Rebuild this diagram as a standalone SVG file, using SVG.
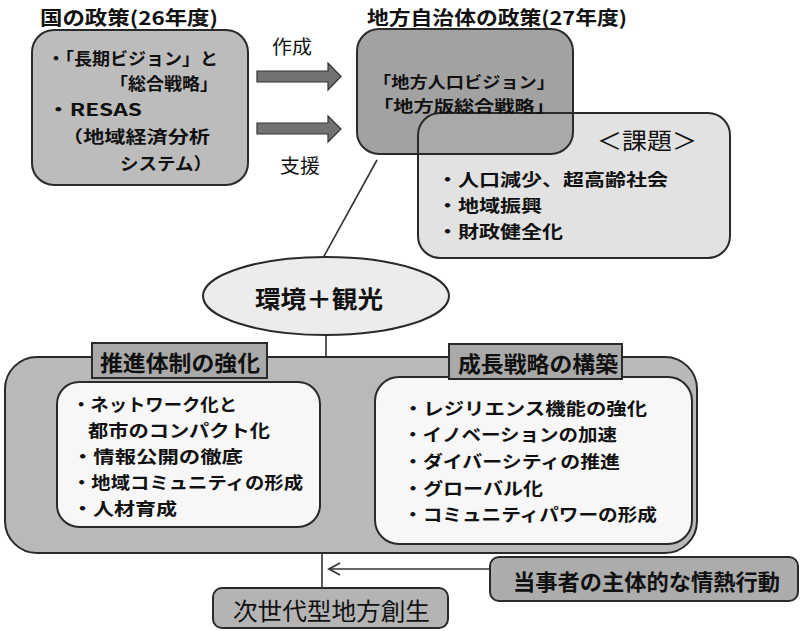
<svg xmlns="http://www.w3.org/2000/svg" width="800" height="631" viewBox="0 0 800 631">
<defs>
<style>
text{font-family:"Noto Sans CJK JP","Noto Sans",sans-serif;fill:#111;dominant-baseline:central}
.b{font-weight:bold}
.box{stroke:#2a2a2a;stroke-width:2}
.ln{stroke:#333;stroke-width:1.6;fill:none}
</style>
<clipPath id="darkclip"><rect x="357" y="29" width="216" height="125" rx="22"/></clipPath>
<marker id="chev" markerWidth="14" markerHeight="14" refX="12" refY="7" orient="auto" markerUnits="userSpaceOnUse">
<path d="M1,1 L12,7 L1,13" fill="none" stroke="#333" stroke-width="1.8"/>
</marker>
</defs>
<rect width="800" height="631" fill="#fff"/>

<g id="titles">
<text class="b" x="40" y="16" font-size="19" textLength="178" lengthAdjust="spacingAndGlyphs">国の政策(26年度)</text>
<text class="b" x="367" y="16" font-size="19" textLength="260" lengthAdjust="spacingAndGlyphs">地方自治体の政策(27年度)</text>
</g>

<g id="connectors">
<path d="M257,71 H328 V63 L341,76.5 L328,90 V82 H257 Z" fill="#727272" stroke="#333" stroke-width="1.2"/>
<path d="M257,123 H328 V116 L341,129 L328,142 V134 H257 Z" fill="#727272" stroke="#333" stroke-width="1.2"/>
<line class="ln" x1="377" y1="160" x2="323" y2="258"/>
<line class="ln" x1="326" y1="335" x2="326" y2="357"/>
<line class="ln" x1="322" y1="553" x2="322" y2="588"/>
<line class="ln" x1="490" y1="569" x2="329" y2="569" marker-end="url(#chev)"/>
<text x="272" y="45" font-size="19" textLength="40" lengthAdjust="spacingAndGlyphs">作成</text>
<text x="280" y="164" font-size="19" textLength="40" lengthAdjust="spacingAndGlyphs">支援</text>
</g>

<g id="national">
<rect class="box" x="32" y="30" width="216" height="155" rx="22" fill="#bcbcbc"/>
<text class="b" x="47" y="57" font-size="17" textLength="171" lengthAdjust="spacingAndGlyphs">・「長期ビジョン」と</text>
<text class="b" x="110" y="82" font-size="17" textLength="108" lengthAdjust="spacingAndGlyphs">「総合戦略」</text>
<text class="b" x="47" y="108" font-size="17" textLength="95" lengthAdjust="spacingAndGlyphs">・RESAS</text>
<text class="b" x="62" y="135" font-size="17" textLength="148" lengthAdjust="spacingAndGlyphs">（地域経済分析</text>
<text class="b" x="120" y="162" font-size="17" textLength="92" lengthAdjust="spacingAndGlyphs">システム）</text>
</g>

<g id="local">
<rect x="357" y="29" width="216" height="125" rx="22" fill="#a2a2a2"/>
</g>
<g id="issues">
<rect x="418" y="113" width="312" height="145" rx="22" fill="#e2e2e2"/>
<rect x="418" y="113" width="312" height="145" rx="22" fill="#a9a9a9" clip-path="url(#darkclip)"/>
<rect class="box" x="418" y="113" width="312" height="145" rx="22" fill="none"/>
<rect class="box" x="357" y="29" width="216" height="125" rx="22" fill="none"/>
<text class="b" x="373" y="81" font-size="16" textLength="182" lengthAdjust="spacingAndGlyphs">「地方人口ビジョン」</text>
<text class="b" x="373" y="105" font-size="16" textLength="182" lengthAdjust="spacingAndGlyphs">「地方版総合戦略」</text>
<text x="597" y="139" font-size="23" textLength="100" lengthAdjust="spacingAndGlyphs">＜課題＞</text>
<text class="b" x="437" y="178" font-size="17.5" textLength="231" lengthAdjust="spacingAndGlyphs">・人口減少、超高齢社会</text>
<text class="b" x="437" y="204" font-size="17.5" textLength="105" lengthAdjust="spacingAndGlyphs">・地域振興</text>
<text class="b" x="437" y="230" font-size="17.5" textLength="126" lengthAdjust="spacingAndGlyphs">・財政健全化</text>
</g>

<g id="theme">
<ellipse class="box" cx="326" cy="296" rx="123" ry="39" fill="#ececec" stroke-width="1.8"/>
<text class="b" x="255" y="297" font-size="24" textLength="128" lengthAdjust="spacingAndGlyphs">環境＋観光</text>
</g>

<g id="strategy">
<rect class="box" x="5" y="357" width="692" height="196" rx="32" fill="#b9b9b9"/>
<rect class="box" x="57" y="382" width="263" height="145" rx="22" fill="#f7f7f7"/>
<rect class="box" x="375" y="377" width="317" height="167" rx="24" fill="#f7f7f7"/>
<rect class="box" x="92" y="343" width="175" height="35" fill="#a9a9a9" stroke-width="1.6"/>
<text class="b" x="100" y="361" font-size="22" textLength="160" lengthAdjust="spacingAndGlyphs">推進体制の強化</text>
<rect class="box" x="449" y="344" width="173" height="35" fill="#a9a9a9" stroke-width="1.6"/>
<text class="b" x="458" y="362" font-size="22" textLength="160" lengthAdjust="spacingAndGlyphs">成長戦略の構築</text>
<text class="b" x="72" y="403" font-size="17.5" textLength="165" lengthAdjust="spacingAndGlyphs">・ネットワーク化と</text>
<text class="b" x="88" y="429" font-size="17.5" textLength="182" lengthAdjust="spacingAndGlyphs">都市のコンパクト化</text>
<text class="b" x="72" y="455" font-size="17.5" textLength="171" lengthAdjust="spacingAndGlyphs">・情報公開の徹底</text>
<text class="b" x="72" y="481" font-size="17.5" textLength="231" lengthAdjust="spacingAndGlyphs">・地域コミュニティの形成</text>
<text class="b" x="72" y="507" font-size="17.5" textLength="105" lengthAdjust="spacingAndGlyphs">・人材育成</text>
<text class="b" x="403" y="407" font-size="17.5" textLength="244" lengthAdjust="spacingAndGlyphs">・レジリエンス機能の強化</text>
<text class="b" x="403" y="433" font-size="17.5" textLength="214" lengthAdjust="spacingAndGlyphs">・イノベーションの加速</text>
<text class="b" x="403" y="460" font-size="17.5" textLength="217" lengthAdjust="spacingAndGlyphs">・ダイバーシティの推進</text>
<text class="b" x="403" y="487" font-size="17.5" textLength="140" lengthAdjust="spacingAndGlyphs">・グローバル化</text>
<text class="b" x="403" y="513" font-size="17.5" textLength="254" lengthAdjust="spacingAndGlyphs">・コミュニティパワーの形成</text>
</g>

<g id="action">
<rect class="box" x="490" y="557" width="308" height="44" rx="9" fill="#acacac"/>
<text class="b" x="513" y="580" font-size="22" textLength="267" lengthAdjust="spacingAndGlyphs">当事者の主体的な情熱行動</text>
</g>

<g id="result">
<rect class="box" x="213" y="588" width="235" height="40" rx="9" fill="#b4b4b4"/>
<text x="233" y="609" font-size="24" textLength="197" lengthAdjust="spacingAndGlyphs">次世代型地方創生</text>
</g>
</svg>
